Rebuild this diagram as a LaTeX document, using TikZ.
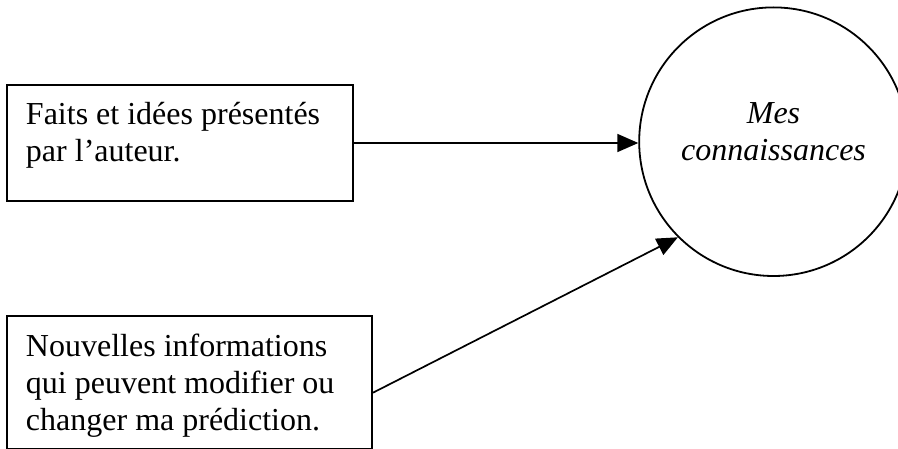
\documentclass[tikz,border=0pt]{standalone}
\usepackage{fontspec}
\setmainfont{Liberation Serif}
\usetikzlibrary{arrows.meta}
\tikzset{
  txt/.style={font=\fontsize{32}{37.5}\selectfont},
  boxnode/.style={txt, draw, line width=2pt, rectangle, align=flush left, inner xsep=19pt, inner ysep=0pt, anchor=north west},
  ringnode/.style={draw, line width=1.8pt, circle, inner sep=0pt, align=center, font=\fontsize{32}{37.5}\selectfont\itshape},
  arr/.style={line width=1.7pt, -{Triangle[length=21pt,width=18pt]}}
}
\begin{document}
\begin{tikzpicture}[x=1pt,y=-1pt]
\useasboundingbox (0,0) rectangle (898,449);
\node[boxnode, text width=307.7pt, text height=39.3pt, text depth=76.7pt] (b1) at (6,84)
  {Faits et idées présentés\\par l’auteur.};
\node[boxnode, text width=327pt, text height=40pt, text depth=93pt] (b2) at (6,315)
  {Nouvelles informations\\qui peuvent modifier ou\\changer ma prédiction.};
\node[ringnode, minimum size=268.6pt, text width=220pt, text height=40pt, text depth=76.8pt] (c) at (773.5,141.7)
  {Mes\\connaissances};
\draw[arr] (b1.east) -- (b1.east -| c.west);
\draw[arr] ([yshift=-10.2pt]b2.east) -- (c.225);
\end{tikzpicture}
\end{document}
